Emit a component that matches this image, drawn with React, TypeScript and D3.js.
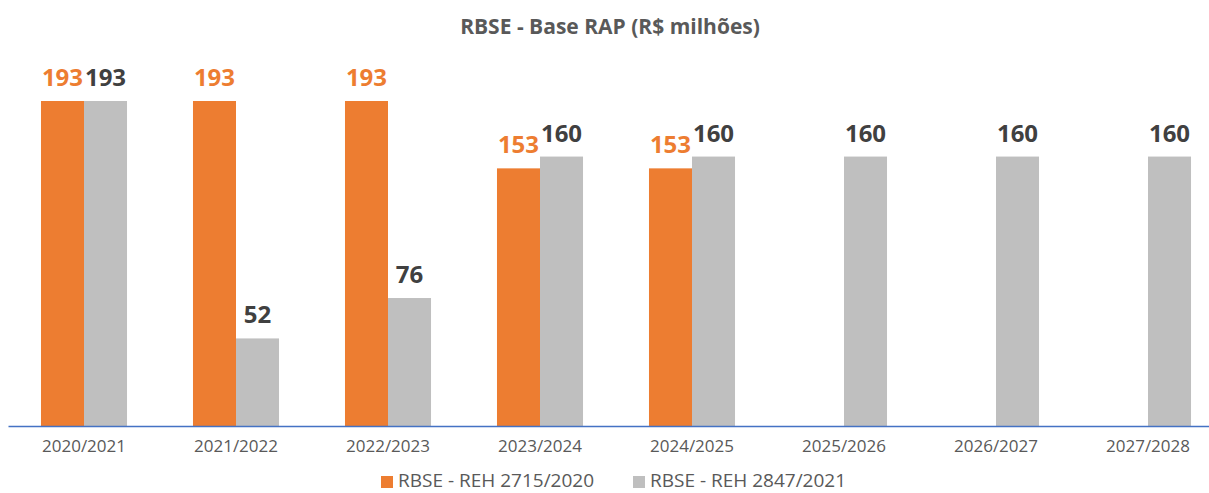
import { useEffect, useRef } from "react";
import * as d3 from "d3";

const WIDTH = 1209;
const HEIGHT = 493;

const categories = [
  "2020/2021",
  "2021/2022",
  "2022/2023",
  "2023/2024",
  "2024/2025",
  "2025/2026",
  "2026/2027",
  "2027/2028",
];
const seriesNames = ["RBSE - REH 2715/2020", "RBSE - REH 2847/2021"];
const reh2715 = [193, 193, 193, 153, 153, null, null, null];
const reh2847 = [193, 52, 76, 160, 160, 160, 160, 160];

const COLORS = ["#ED7D31", "#BFBFBF"];
const LABEL_COLORS = ["#ED7D31", "#404040"];
const FONT = "'Open Sans', sans-serif";

export default function App() {
  const axisRef = useRef<SVGGElement>(null);

  const xScale = d3
    .scaleBand<string>()
    .domain(categories)
    .range([8, 1224])
    .paddingInner(0.434)
    .paddingOuter(0.217);
  const sub = d3
    .scaleBand<number>()
    .domain([0, 1])
    .range([0, xScale.bandwidth()]);
  const yScale = d3.scaleLinear().domain([0, 193]).range([426, 101]);

  useEffect(() => {
    const g = d3.select(axisRef.current);
    g.selectAll("*").remove();
    const axis = d3.axisBottom(xScale).tickSize(0).tickPadding(14);
    g.attr("transform", "translate(0,426)").call(axis);
    g.select(".domain").attr("stroke", "#4472C4").attr("stroke-width", 1.5);
    g.selectAll("text")
      .attr("fill", "#595959")
      .style("font-family", FONT)
      .style("font-size", "17px");
  }, []);

  const series = [reh2715, reh2847];

  return (
    <svg width={WIDTH} height={HEIGHT} style={{ position: "absolute", left: 0, top: 0 }}>
      <rect width={WIDTH} height={HEIGHT} fill="#fff" />
      <text
        x={610}
        y={34}
        textAnchor="middle"
        fill="#595959"
        fontFamily={FONT}
        fontWeight="bold"
        fontSize={21}
      >
        RBSE - Base RAP (R$ milhões)
      </text>
      {series.map((vals, si) => (
        <g key={si}>
          {vals.map((v, i) =>
            v == null ? null : (
              <g key={i}>
                <rect
                  x={(xScale(categories[i]) ?? 0) + (sub(si) ?? 0)}
                  y={yScale(v)}
                  width={sub.bandwidth()}
                  height={yScale(0) - yScale(v)}
                  fill={COLORS[si]}
                />
                <text
                  x={(xScale(categories[i]) ?? 0) + (sub(si) ?? 0) + sub.bandwidth() / 2}
                  y={yScale(v) - 15}
                  textAnchor="middle"
                  fill={LABEL_COLORS[si]}
                  fontFamily={FONT}
                  fontWeight="bold"
                  fontSize={24}
                >
                  {v}
                </text>
              </g>
            )
          )}
        </g>
      ))}
      <g ref={axisRef} />
      {seriesNames.map((name, i) => (
        <g key={name} transform={`translate(${[381, 633][i]},487)`}>
          <rect x={0} y={-11} width={12} height={12} fill={COLORS[i]} />
          <text
            x={17}
            y={0}
            fill="#595959"
            fontFamily={FONT}
            fontSize={19}
          >
            {name}
          </text>
        </g>
      ))}
    </svg>
  );
}
